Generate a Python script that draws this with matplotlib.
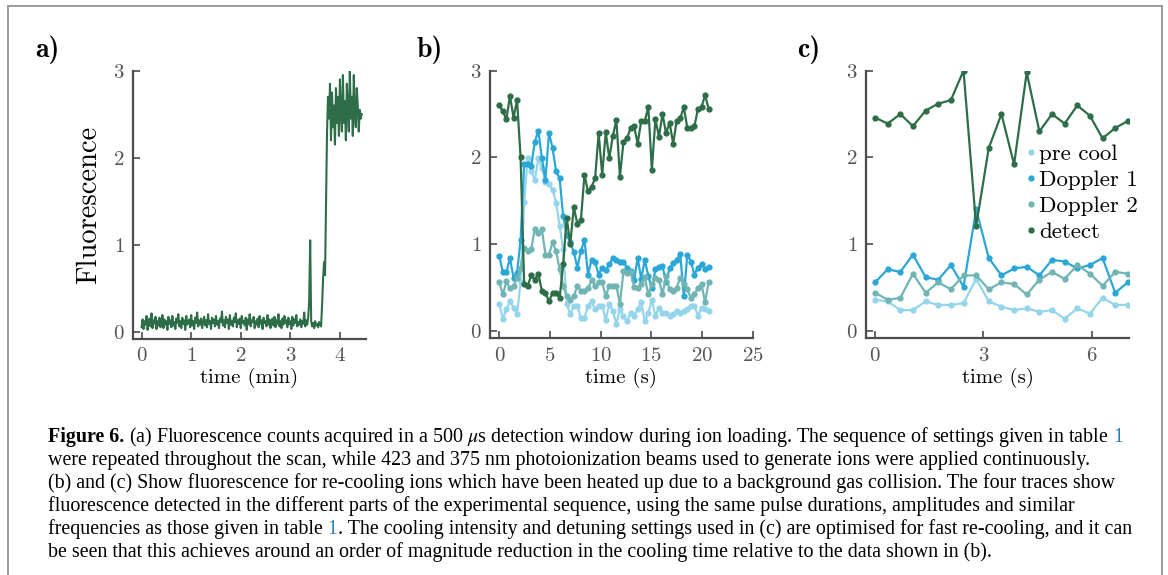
import numpy as np
import matplotlib.pyplot as plt
from matplotlib.lines import Line2D
from matplotlib.patches import Rectangle

plt.rcParams['font.family'] = 'cmr10'
plt.rcParams['axes.formatter.use_mathtext'] = True

# ---- panel a: loading trace (sampled every 0.02 min) ----
dt_a = 0.02
fluo_a = [
    0.05, 0.14, 0.03, 0.12, 0.08, 0.18, 0.02, 0.11, 0.15, 0.06, 0.21, 0.04, 0.13, 0.09, 0.17, 0.03, 0.12, 0.07, 0.16, 0.05,
    0.10, 0.19, 0.04, 0.14, 0.08, 0.12, 0.02, 0.17, 0.09, 0.13, 0.05, 0.18, 0.07, 0.11, 0.03, 0.15, 0.10, 0.20, 0.06, 0.12,
    0.04, 0.16, 0.09, 0.13, 0.02, 0.18, 0.08, 0.11, 0.14, 0.05, 0.19, 0.07, 0.12, 0.03, 0.16, 0.10, 0.22, 0.06, 0.13, 0.08,
    0.15, 0.04, 0.11, 0.17, 0.07, 0.13, 0.05, 0.20, 0.09, 0.12, 0.03, 0.16, 0.10, 0.14, 0.06, 0.18, 0.08, 0.12, 0.04, 0.15,
    0.11, 0.23, 0.07, 0.13, 0.05, 0.17, 0.10, 0.14, 0.03, 0.19, 0.08, 0.12, 0.06, 0.16, 0.11, 0.21, 0.05, 0.13, 0.09, 0.15,
    0.04, 0.18, 0.10, 0.12, 0.07, 0.16, 0.02, 0.14, 0.09, 0.20, 0.06, 0.13, 0.11, 0.17, 0.04, 0.12, 0.08, 0.15, 0.05, 0.18,
    0.09, 0.13, 0.03, 0.16, 0.10, 0.12, 0.06, 0.19, 0.08, 0.14, 0.04, 0.11, 0.15, 0.07, 0.17, 0.05, 0.13, 0.09, 0.20, 0.06,
    0.12, 0.04, 0.15, 0.08, 0.18, 0.10, 0.13, 0.05, 0.16, 0.09, 0.12, 0.03, 0.17, 0.07, 0.14, 0.10, 0.19, 0.06, 0.11, 0.08,
    0.14, 0.05, 0.12, 0.09, 0.22, 0.06, 0.13, 0.08, 0.16,
    0.35, 1.05, 0.12,
    0.06, 0.10, 0.04, 0.12, 0.07, 0.09, 0.05, 0.11, 0.08, 0.06,
    0.30, 0.60, 0.80, 0.65, 1.50, 2.30, 2.70,
    2.45, 2.85, 2.20, 2.75, 2.35, 2.60, 2.15, 2.80, 2.40, 2.70, 2.25, 2.90, 2.50, 2.30, 2.95, 2.40, 2.65,
    2.20, 2.85, 2.55, 2.30, 3.00, 2.45, 2.70, 2.25, 2.95, 2.50, 2.35, 2.80, 2.60, 2.30, 2.55, 2.45, 2.50,
]

# ---- panel b: slow re-cooling (0.35 s per point) ----
dt_b = 0.35
b_precool = [0.31, 0.14, 0.25, 0.34, 0.27, 0.20, 0.56, 1.49, 1.99, 1.84,
             1.74, 1.99, 1.88, 1.72, 1.69, 1.63, 1.48, 1.21, 0.94, 0.31,
             0.19, 0.29, 0.29, 0.15, 0.15, 0.29, 0.34, 0.25, 0.29, 0.29,
             0.13, 0.31, 0.23, 0.08, 0.25, 0.17, 0.11, 0.21, 0.17, 0.25,
             0.33, 0.11, 0.21, 0.36, 0.17, 0.27, 0.21, 0.21, 0.17, 0.19,
             0.23, 0.21, 0.23, 0.25, 0.29, 0.29, 0.17, 0.27, 0.25, 0.23]
b_doppler1 = [0.86, 0.68, 0.68, 0.84, 0.61, 0.67, 1.05, 1.92, 1.93, 1.90,
              2.18, 2.31, 1.99, 1.74, 2.28, 2.11, 1.84, 1.76, 1.32, 1.11,
              1.02, 0.91, 0.73, 0.92, 1.05, 0.65, 0.82, 0.79, 0.65, 0.73,
              0.70, 0.77, 0.84, 0.82, 0.79, 0.79, 0.73, 0.69, 0.59, 0.84,
              0.60, 0.82, 0.63, 0.49, 0.71, 0.74, 0.75, 0.56, 0.72, 0.78,
              0.82, 0.89, 0.40, 0.88, 0.80, 0.65, 0.73, 0.77, 0.71, 0.74]
b_doppler2 = [0.56, 0.42, 0.57, 0.49, 0.52, 0.61, 0.73, 0.96, 0.92, 0.94,
              1.18, 1.13, 1.17, 0.88, 0.88, 1.02, 0.92, 0.71, 0.52, 0.40,
              0.36, 0.40, 0.52, 0.46, 0.46, 0.49, 0.59, 0.52, 0.56, 0.56,
              0.40, 0.52, 0.52, 0.52, 0.31, 0.69, 0.67, 0.68, 0.51, 0.50,
              0.54, 0.62, 0.42, 0.54, 0.61, 0.59, 0.42, 0.63, 0.48, 0.46,
              0.50, 0.61, 0.54, 0.48, 0.38, 0.42, 0.50, 0.54, 0.33, 0.56]
b_detect = [2.60, 2.53, 2.44, 2.71, 2.46, 2.66, 2.00, 0.54, 0.52, 0.64,
            0.59, 0.66, 0.46, 0.44, 0.34, 0.44, 0.44, 0.38, 0.77, 1.30,
            1.00, 1.43, 1.23, 1.28, 1.80, 1.61, 1.66, 1.76, 2.28, 1.80,
            2.29, 1.99, 2.25, 2.43, 1.78, 2.18, 2.22, 2.34, 2.36, 2.16,
            2.42, 2.42, 2.58, 1.86, 2.44, 2.24, 2.50, 2.28, 2.40, 2.16,
            2.42, 2.45, 2.58, 2.34, 2.34, 2.36, 2.56, 2.58, 2.72, 2.56]

# ---- panel c: fast re-cooling (0.35 s per point) ----
dt_c = 0.35
c_precool = [0.36, 0.34, 0.24, 0.24, 0.34, 0.30, 0.30, 0.32, 0.60, 0.34, 0.28,
             0.24, 0.26, 0.22, 0.24, 0.14, 0.26, 0.20, 0.38, 0.30, 0.30]
c_doppler1 = [0.56, 0.71, 0.68, 0.88, 0.62, 0.59, 0.76, 0.51, 1.40, 0.84, 0.64,
              0.72, 0.74, 0.64, 0.82, 0.80, 0.72, 0.76, 0.84, 0.44, 0.56]
c_doppler2 = [0.44, 0.36, 0.38, 0.66, 0.44, 0.56, 0.48, 0.64, 0.64, 0.48, 0.56,
              0.54, 0.42, 0.59, 0.68, 0.60, 0.76, 0.66, 0.52, 0.68, 0.66]
c_detect = [2.46, 2.39, 2.50, 2.36, 2.54, 2.62, 2.66, 3.00, 1.21, 2.11, 2.50,
            1.92, 2.98, 2.30, 2.50, 2.39, 2.60, 2.48, 2.22, 2.34, 2.42]

labels = ['pre cool', 'Doppler 1', 'Doppler 2', 'detect']
colors = ['#95d5ec', '#2aa7d6', '#70b5b3', '#2d6e48']

W, H = 1168, 575
fig = plt.figure(figsize=(W / 100, H / 100), dpi=100)

# grey frame around the whole figure
fig.patches.append(Rectangle((8 / W, -0.05), 1154 / W, 1 - 6 / H + 0.05, transform=fig.transFigure,
                             fill=False, edgecolor='#9a9a9a', linewidth=1.4))


def px_axes(x0, y0, x1, y1):
    return fig.add_axes([x0 / W, 1 - y1 / H, (x1 - x0) / W, (y1 - y0) / H])


def style(ax, xt, xlim):
    for s in ['top', 'right']:
        ax.spines[s].set_visible(False)
    for s in ['left', 'bottom']:
        ax.spines[s].set_color('#4d4d4d')
        ax.spines[s].set_linewidth(1.6)
    ax.set_xlim(*xlim)
    ax.set_ylim(-0.085, 3)
    ax.set_xticks(xt)
    ax.set_yticks([0, 1, 2, 3])
    ax.tick_params(direction='in', length=5, width=1.2, colors='#4d4d4d',
                   labelsize=15, labelcolor='#555555', pad=6)


axa = px_axes(132.7, 70.7, 365.7, 339)
axb = px_axes(490, 70.7, 752.7, 338.3)
axc = px_axes(866, 70.7, 1129.3, 338.3)

t_a = np.arange(len(fluo_a)) * dt_a
axa.plot(t_a, fluo_a, color=colors[3], lw=1.5)
style(axa, [0, 1, 2, 3, 4], (-0.18, 4.52))
axa.set_xlabel('time (min)', fontsize=15, labelpad=2)
axa.set_ylabel('Fluorescence', fontsize=20.5)
axa.yaxis.set_label_coords(-0.13, 0.5)

t_b = np.arange(len(b_detect)) * dt_b
for ys, c in zip([b_precool, b_doppler1, b_doppler2, b_detect], colors):
    axb.plot(t_b, ys, color=c, lw=1.6, marker='o', markersize=3.5)
style(axb, [0, 5, 10, 15, 20, 25], (-0.92, 25))
axb.set_xlabel('time (s)', fontsize=15, labelpad=2)

t_c = np.arange(len(c_detect)) * dt_c
for ys, c in zip([c_precool, c_doppler1, c_doppler2, c_detect], colors):
    axc.plot(t_c, ys, color=c, lw=1.6, marker='o', markersize=3.5)
style(axc, [0, 3, 6], (-0.25, 7.04))
axc.set_xlabel('time (s)', fontsize=15, labelpad=2)

handles = [Line2D([], [], color=c, marker='o', ls='none', markersize=3.5) for c in colors]
axc.legend(handles, labels, loc='upper left', bbox_to_anchor=(0.611, 0.728), frameon=False,
           handlelength=0.4, handletextpad=0.15, borderpad=0, borderaxespad=0,
           labelspacing=0.26, fontsize=16.5)

for letter, x in zip(['a)', 'b)', 'c)'], [35, 417, 797]):
    fig.text(x / W, 1 - 50 / H, letter, fontsize=20, family='cmb10', ha='left', va='center')

# ---- caption ----
cap_font = dict(family='Liberation Serif', fontsize=14.4)
blue = '#2a7bb8'
caption = [
    [('Figure 6.', dict(weight='bold')),
     (r' (a) Fluorescence counts acquired in a 500 $\mu$s detection window during ion loading. '
      'The sequence of settings given in table', {}),
     (' 1', dict(color=blue))],
    [('were repeated throughout the scan, while 423 and 375 nm photoionization beams used to '
      'generate ions were applied continuously.', {})],
    [('(b) and (c) Show fluorescence for re-cooling ions which have been heated up due to a '
      'background gas collision. The four traces show', {})],
    [('fluorescence detected in the different parts of the experimental sequence, using the '
      'same pulse durations, amplitudes and similar', {})],
    [('frequencies as those given in table', {}), (' 1', dict(color=blue)),
     ('. The cooling intensity and detuning settings used in (c) are optimised for fast '
      're-cooling, and it can', {})],
    [('be seen that this achieves around an order of magnitude reduction in the cooling time '
      'relative to the data shown in (b).', {})],
]
line_y = [437, 460, 483, 506, 529, 552]

renderer = fig.canvas.get_renderer()
for pieces, y in zip(caption, line_y):
    x = 48
    for s, kw in pieces:
        t = fig.text(x / W, 1 - y / H, s, ha='left', va='center', math_fontfamily='stix',
                     **cap_font, **kw)
        x += t.get_window_extent(renderer).width

fig.savefig('out.png', dpi=100)
